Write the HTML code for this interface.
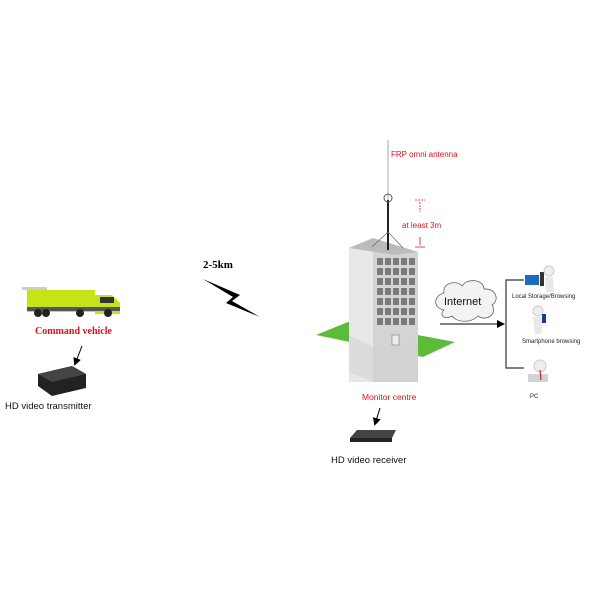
<!DOCTYPE html>
<html><head><meta charset="utf-8"><style>body{margin:0;background:#fff}svg{display:block}</style></head><body>
<svg width="600" height="600" viewBox="0 0 600 600" xmlns="http://www.w3.org/2000/svg" font-family="Liberation Sans, sans-serif">
<defs><marker id="a" markerWidth="8" markerHeight="8" refX="6" refY="4" orient="auto"><path d="M0,0 L8,4 L0,8z" fill="#000"/></marker></defs>
<!-- truck -->
<rect x="22" y="287" width="25" height="3" fill="#ccc"/>
<rect x="27" y="290" width="68" height="22" fill="#c6e318"/>
<path d="M95,295 L112,295 L120,303 L120,314 L95,314z" fill="#c6e318"/>
<rect x="100" y="297" width="14" height="6" fill="#333"/>
<rect x="27" y="307" width="93" height="4" fill="#555"/>
<circle cx="38" cy="313" r="4" fill="#222"/><circle cx="46" cy="313" r="4" fill="#222"/><circle cx="80" cy="313" r="4" fill="#222"/><circle cx="108" cy="313" r="4" fill="#222"/>
<text x="35" y="334" font-family="Liberation Serif,serif" font-weight="bold" font-size="10" fill="#e0101c">Command vehicle</text>
<line x1="82" y1="346" x2="75" y2="364" stroke="#000" marker-end="url(#a)"/>
<path d="M38,374 L72,366 L86,374 L86,388 L52,396 L38,386z" fill="#222"/>
<path d="M38,374 L72,366 L86,374 L52,382z" fill="#444"/>
<text x="5" y="409" font-size="9.5" fill="#111">HD video transmitter</text>
<text x="203" y="268" font-family="Liberation Serif,serif" font-weight="bold" font-size="11">2-5km</text>
<path d="M203,279 L240,295 L232,301 L260,317 L226,303 L233,297z" fill="#000"/>
<!-- building -->
<polygon points="316,335 348,322 455,342 423,357" fill="#5dbb3a"/>
<polygon points="349,248 373,238 373,382 349,372" fill="#e8e8e8"/>
<polygon points="373,238 418,252 418,382 373,382" fill="#d4d4d4"/>
<polygon points="349,248 373,238 418,252 395,255" fill="#bbb"/>
<polygon points="349,335 373,347 418,342 418,382 349,382" fill="#d0d0d0" opacity="0.5"/>
<g fill="#7a7a7a">
<rect x="377" y="258" width="6" height="7"/><rect x="385" y="258" width="6" height="7"/><rect x="393" y="258" width="6" height="7"/><rect x="401" y="258" width="6" height="7"/><rect x="409" y="258" width="6" height="7"/>
<rect x="377" y="268" width="6" height="7"/><rect x="385" y="268" width="6" height="7"/><rect x="393" y="268" width="6" height="7"/><rect x="401" y="268" width="6" height="7"/><rect x="409" y="268" width="6" height="7"/>
<rect x="377" y="278" width="6" height="7"/><rect x="385" y="278" width="6" height="7"/><rect x="393" y="278" width="6" height="7"/><rect x="401" y="278" width="6" height="7"/><rect x="409" y="278" width="6" height="7"/>
<rect x="377" y="288" width="6" height="7"/><rect x="385" y="288" width="6" height="7"/><rect x="393" y="288" width="6" height="7"/><rect x="401" y="288" width="6" height="7"/><rect x="409" y="288" width="6" height="7"/>
<rect x="377" y="298" width="6" height="7"/><rect x="385" y="298" width="6" height="7"/><rect x="393" y="298" width="6" height="7"/><rect x="401" y="298" width="6" height="7"/><rect x="409" y="298" width="6" height="7"/>
<rect x="377" y="308" width="6" height="7"/><rect x="385" y="308" width="6" height="7"/><rect x="393" y="308" width="6" height="7"/><rect x="401" y="308" width="6" height="7"/><rect x="409" y="308" width="6" height="7"/>
<rect x="377" y="318" width="6" height="7"/><rect x="385" y="318" width="6" height="7"/><rect x="393" y="318" width="6" height="7"/><rect x="401" y="318" width="6" height="7"/><rect x="409" y="318" width="6" height="7"/>
</g>
<rect x="392" y="335" width="7" height="10" fill="#eee" stroke="#888" stroke-width="0.7"/>
<!-- antenna -->
<line x1="388" y1="140" x2="388" y2="200" stroke="#aaa" stroke-width="1"/>
<line x1="388" y1="200" x2="388" y2="250" stroke="#222" stroke-width="2"/>
<circle cx="388" cy="198" r="4" fill="none" stroke="#555"/>
<path d="M388,232 L372,247 M388,232 L403,248" stroke="#666" stroke-width="0.7"/>
<text x="391" y="157" font-size="8" fill="#e0101c">FRP omni antenna</text>
<text x="402" y="228" font-size="8" fill="#e0101c">at least 3m</text>
<path d="M415,200 h10 M420,202 v10" stroke="#e0101c" stroke-width="0.8" stroke-dasharray="2,1"/>
<path d="M415,247 h10 M420,245 v-8" stroke="#e0101c" stroke-width="0.8"/>
<text x="362" y="400" font-size="8.5" fill="#e0101c">Monitor centre</text>
<line x1="380" y1="408" x2="375" y2="424" stroke="#000" marker-end="url(#a)"/>
<path d="M350,438 L357,430 L396,430 L392,438z" fill="#444"/><rect x="350" y="438" width="42" height="4" fill="#222"/>
<text x="331" y="463" font-size="9.5" fill="#111">HD video receiver</text>
<!-- cloud -->
<path d="M444,310 C432,308 434,295 444,293 C442,282 458,280 462,286 C468,277 484,280 484,289 C496,288 500,300 492,305 C498,314 486,322 478,316 C470,324 456,322 452,316 C446,320 438,316 444,310z" fill="#f3f3f3" stroke="#666" stroke-width="0.8"/>
<text x="444" y="305" font-size="11" fill="#111">Internet</text>
<line x1="440" y1="324" x2="503" y2="324" stroke="#000" marker-end="url(#a)"/>
<path d="M524,280 H506 V368 H524" fill="none" stroke="#333" stroke-width="1.2"/>
<!-- people -->
<rect x="525" y="275" width="14" height="10" fill="#1a6cc0"/><rect x="540" y="272" width="4" height="14" fill="#333"/>
<circle cx="549" cy="271" r="5" fill="#eee" stroke="#ccc"/><path d="M545,277 L553,277 L554,292 L546,292z" fill="#e8e8e8"/>
<text x="512" y="298" font-size="6" fill="#222">Local Storage/Browsing</text>
<circle cx="538" cy="311" r="5" fill="#eee" stroke="#ccc"/><path d="M533,317 L543,317 L541,334 L535,334z" fill="#e8e8e8"/><rect x="542" y="314" width="4" height="9" fill="#1a3a90"/>
<text x="522" y="343" font-size="6" fill="#222">Smartphone browsing</text>
<circle cx="540" cy="366" r="6" fill="#eee" stroke="#ccc"/><rect x="528" y="374" width="20" height="8" fill="#cfd4d8"/><line x1="540" y1="370" x2="541" y2="380" stroke="#c00"/>
<text x="530" y="398" font-size="6" fill="#222">PC</text>
</svg>
</body></html>
